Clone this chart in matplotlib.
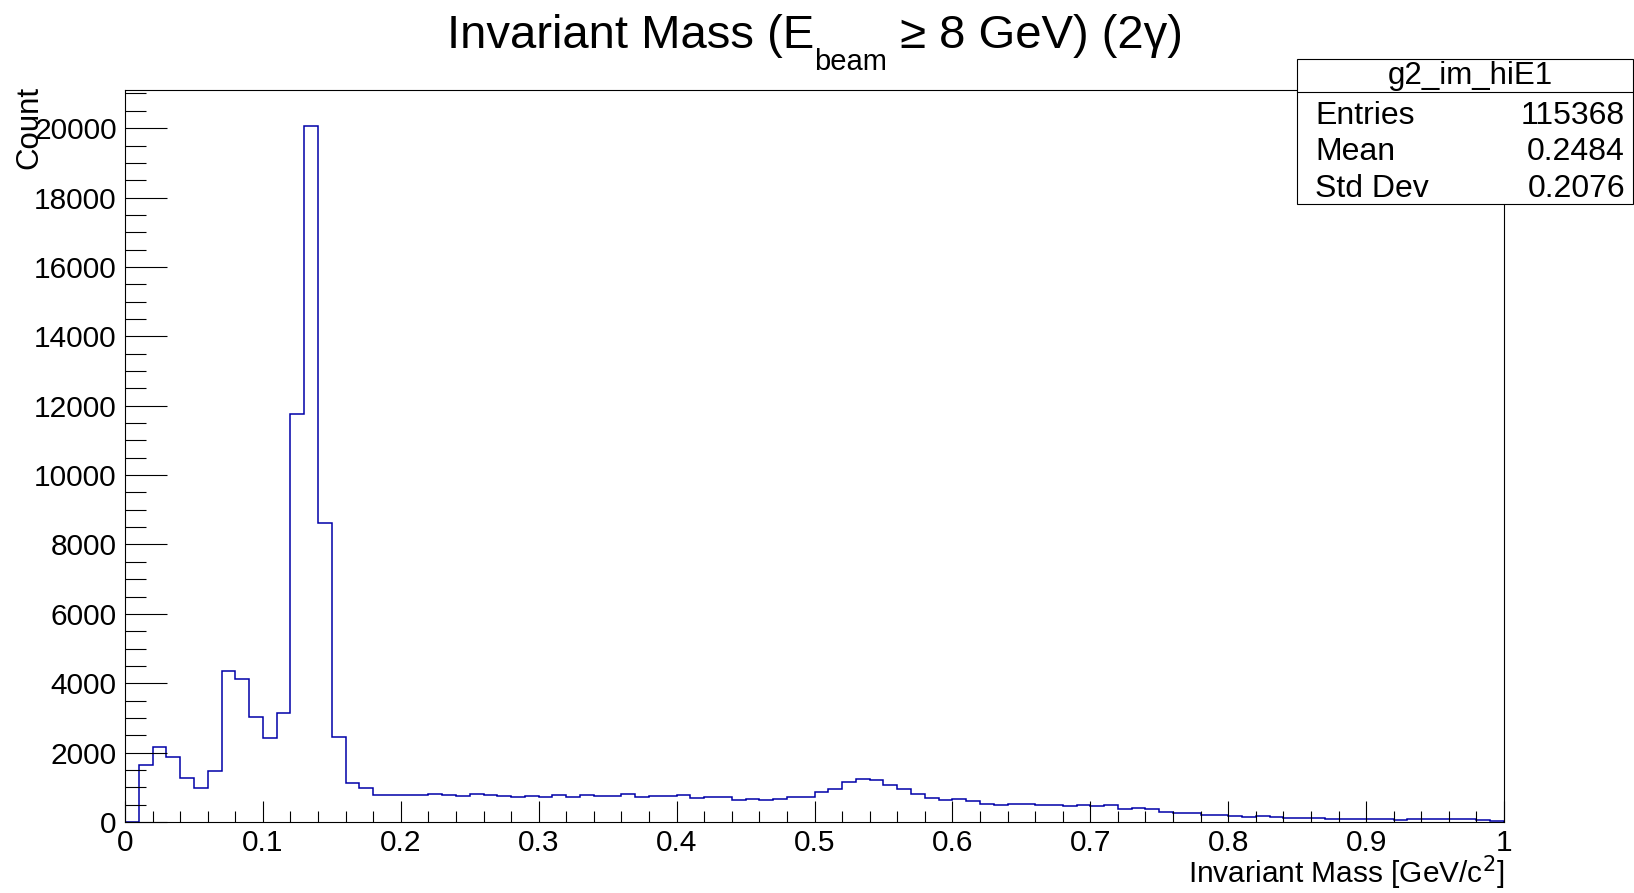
import numpy as np
import matplotlib
matplotlib.use("Agg")
import matplotlib.pyplot as plt
from matplotlib.patches import Rectangle
from matplotlib.lines import Line2D
from matplotlib.ticker import MultipleLocator, FuncFormatter

plt.rcParams['font.family'] = ['Liberation Sans', 'DejaVu Sans']

# Histogram binning: 100 bins from 0 to 1 GeV/c^2
x_min, x_max, n_bins = 0.0, 1.0, 100

# Bin contents
counts = [
    0, 1629, 2169, 1860, 1263, 983, 1475, 4347, 4116, 3017,
    2419, 3133, 11774, 20070, 8631, 2448, 1128, 993, 790, 780,
    771, 771, 800, 771, 743, 800, 771, 743, 714, 743,
    714, 771, 714, 771, 743, 743, 800, 714, 743, 743,
    771, 686, 714, 714, 648, 676, 648, 676, 714, 714,
    867, 952, 1143, 1248, 1219, 1067, 943, 800, 705, 638,
    667, 610, 514, 476, 533, 505, 476, 476, 448, 476,
    448, 476, 381, 410, 362, 295, 267, 267, 210, 210,
    171, 143, 171, 143, 114, 114, 114, 86, 86, 86,
    86, 86, 67, 95, 76, 76, 76, 76, 67, 29,
]

stats_name = "g2_im_hiE1"
stats_labels = ["Entries", "Mean", "Std Dev"]
stats_values = ["115368", "0.2484", "0.2076"]

W, H = 1634, 893
fig = plt.figure(figsize=(W / 100, H / 100), dpi=100)
ax = fig.add_axes([125 / W, 1 - 822 / H, (1504 - 125) / W, (822 - 90) / H])

edges = np.linspace(x_min, x_max, n_bins + 1)
ax.stairs(counts, edges, color='#0000a8', linewidth=1.1, baseline=0)

ax.set_xlim(x_min, x_max)
ax.set_ylim(0, 21100)

# ROOT-like ticks
ax.xaxis.set_major_locator(MultipleLocator(0.1))
ax.xaxis.set_minor_locator(MultipleLocator(0.02))
ax.yaxis.set_major_locator(MultipleLocator(2000))
ax.yaxis.set_minor_locator(MultipleLocator(500))
ax.xaxis.set_major_formatter(FuncFormatter(lambda v, p: "%g" % round(v, 3)))
ax.yaxis.set_major_formatter(FuncFormatter(lambda v, p: "%d" % v))
ax.tick_params(axis='x', which='major', direction='in', length=15, width=0.8, labelsize=21.5, pad=5)
ax.tick_params(axis='x', which='minor', direction='in', length=8, width=0.8)
ax.tick_params(axis='y', which='major', direction='in', length=30, width=0.8, labelsize=21.5, pad=6)
ax.tick_params(axis='y', which='minor', direction='in', length=15, width=0.8)
for s in ax.spines.values():
    s.set_linewidth(0.8)

# Axis titles (ROOT puts them at the end of the axis)
fig.text(1504 / W, 1 - 873 / H, r"Invariant Mass [GeV/c$^{2}$]", fontsize=21.5,
         ha='right', va='center')
fig.text(29 / W, 1 - 86 / H, "Count", fontsize=22.5, rotation=90, ha='center', va='top')

# Title with a ROOT-style low subscript
renderer = fig.canvas.get_renderer()
title_y = 1 - 48 / H
sub_y = 1 - 70 / H
parts = [("Invariant Mass (E", 34, title_y), ("beam", 21, sub_y), (" \u2265 8 GeV) (2\u03b3)", 34, title_y)]
texts = [fig.text(0, y, s, fontsize=fs, ha='left', va='baseline') for s, fs, y in parts]
widths = [t.get_window_extent(renderer).width for t in texts]
x = 815 - sum(widths) / 2
for t, w in zip(texts, widths):
    t.set_x(x / W)
    x += w

# Stats box
bx0, bx1, by0, by1 = 1297, 1633, 59, 204
fig.add_artist(Rectangle((bx0 / W, 1 - by1 / H), (bx1 - bx0) / W, (by1 - by0) / H,
                         transform=fig.transFigure, facecolor='white', edgecolor='black',
                         linewidth=0.8, zorder=5))
fig.add_artist(Line2D([bx0 / W, bx1 / W], [1 - 92 / H, 1 - 92 / H], transform=fig.transFigure,
                      color='black', linewidth=0.8, zorder=6))
fig.text(1470 / W, 1 - 76 / H, stats_name, fontsize=22.5, ha='center', va='center', zorder=7)
row_y = [116, 152, 189]
for lab, val, yy in zip(stats_labels, stats_values, row_y):
    fig.text(1315 / W, 1 - yy / H, lab, fontsize=23, ha='left', va='center', zorder=7)
    fig.text(1625 / W, 1 - yy / H, val, fontsize=23, ha='right', va='center', zorder=7)

fig.savefig("out.png", dpi=100)
